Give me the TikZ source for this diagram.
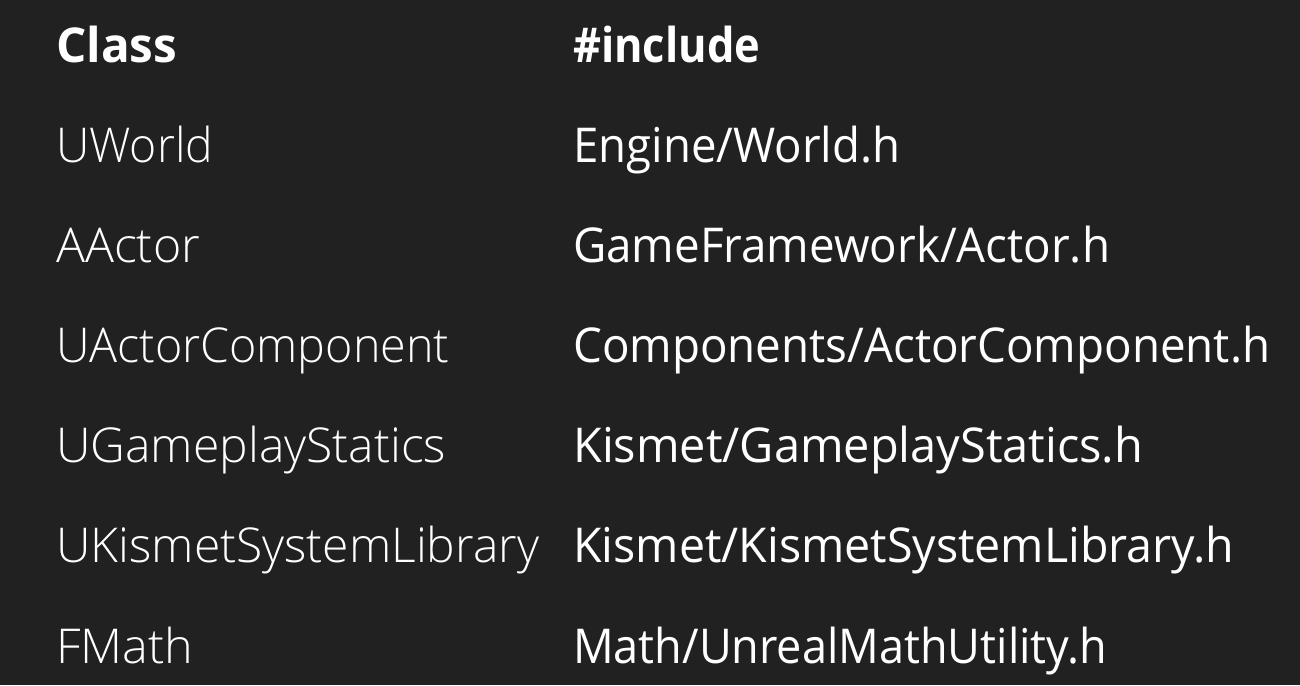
\documentclass[tikz,border=0pt]{standalone}
\usepackage{fontspec}
\setmainfont{Open Sans}
\newfontfamily\lightf{Open Sans Light}
\newfontfamily\boldf{Open Sans Bold}
\definecolor{bg}{HTML}{212121}
\newcommand{\fitw}[2]{\resizebox{#1pt}{\height}{#2}}
\begin{document}
\begin{tikzpicture}[x=1pt,y=1pt,
  cell/.style={anchor=base west,inner sep=0pt,text=white},
  lcell/.style={cell,font=\lightf\fontsize{48}{48}\selectfont},
  rcell/.style={cell,font=\fontsize{48}{48}\selectfont},
  hcell/.style={cell,font=\boldf\fontsize{48}{48}\selectfont}]
\fill[bg] (0,0) rectangle (1300,685);
\useasboundingbox (0,0) rectangle (1300,685);
\node[hcell] (h1) at (56,622) {\fitw{121}{Class}};
\node[hcell] (h2) at (573,622) {\fitw{187}{\#include}};
\node[lcell] (l1) at (56,522) {\fitw{157}{UWorld}};
\node[rcell] (r1) at (573,522) {\fitw{327}{Engine/World.h}};
\node[lcell] (l2) at (56,422) {\fitw{144}{AActor}};
\node[rcell] (r2) at (573,422) {\fitw{537}{GameFramework/Actor.h}};
\node[lcell] (l3) at (56,322) {\fitw{393}{UActorComponent}};
\node[rcell] (r3) at (573,322) {\fitw{697}{Components/ActorComponent.h}};
\node[lcell] (l4) at (56,222) {\fitw{390}{UGameplayStatics}};
\node[rcell] (r4) at (573,222) {\fitw{570}{Kismet/GameplayStatics.h}};
\node[lcell] (l5) at (56,122) {\fitw{483}{UKismetSystemLibrary}};
\node[rcell] (r5) at (573,122) {\fitw{661}{Kismet/KismetSystemLibrary.h}};
\node[lcell] (l6) at (56,22) {\fitw{137}{FMath}};
\node[rcell] (r6) at (573,22) {\fitw{534}{Math/UnrealMathUtility.h}};
\end{tikzpicture}
\end{document}
